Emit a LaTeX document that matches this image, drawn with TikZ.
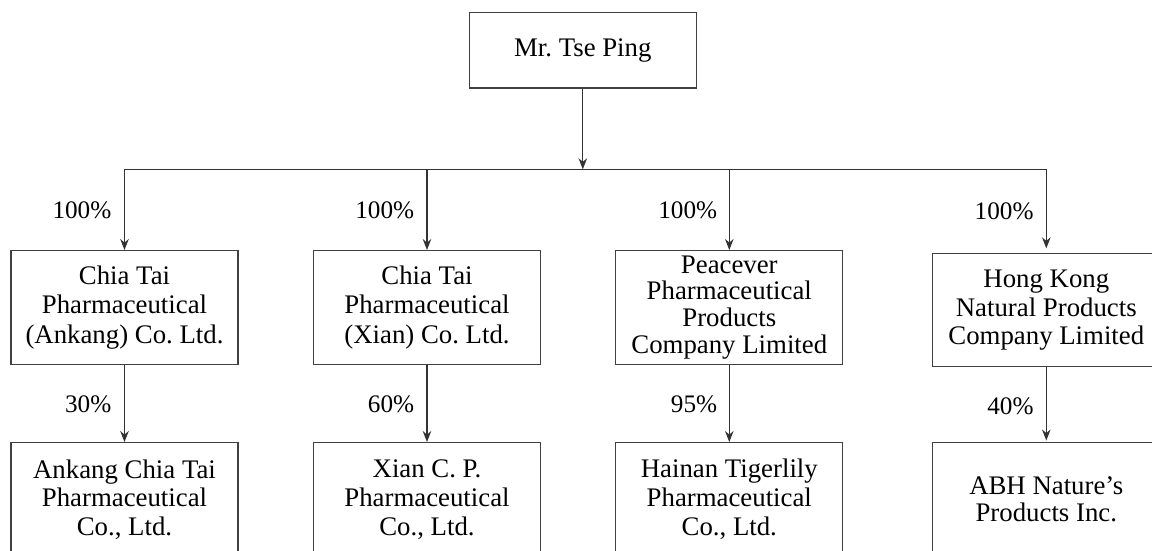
\documentclass[tikz,border=0pt]{standalone}
\usepackage{fontspec}
\setmainfont{Liberation Serif}
\usetikzlibrary{arrows.meta}
\frenchspacing
\begin{document}
\begin{tikzpicture}[x=1pt,y=-1pt,
  box/.style={draw=black!75, line width=1.3pt, rectangle, minimum width=227pt,
    minimum height=113.6pt, inner sep=0pt, align=center,
    font=\fontsize{26.8}{29.5}\selectfont},
  pct/.style={anchor=east, inner sep=0pt, font=\fontsize{25.2}{29}\selectfont},
  ln/.style={draw=black!80, line width=1.3pt},
  arr/.style={ln, -{Stealth[length=11pt,width=8.5pt,inset=3.5pt]}}]
\useasboundingbox (0,0) rectangle (1152,551);
\clip (0,0) rectangle (1152,551);

\node[box, minimum height=75.3pt] (top) at (582.8,50.3) {Mr. Tse Ping};

\node[box, font=\fontsize{26.8}{29.6}\selectfont] (a1) at (124.5,307.5) {Chia Tai\\Pharmaceutical\\(Ankang) Co. Ltd.};
\node[box, font=\fontsize{26.8}{29.6}\selectfont] (a2) at (427,307.5) {Chia Tai\\Pharmaceutical\\(Xian) Co. Ltd.};
\node[box, font=\fontsize{26.8}{26.9}\selectfont] (a3) at (729.3,307.5) {Peacever\\Pharmaceutical\\Products\\Company Limited};
\node[box, minimum height=113pt, font=\fontsize{26.8}{28.4}\selectfont] (a4) at (1046.3,310.2) {Hong Kong\\Natural Products\\Company Limited};

\node[box, font=\fontsize{26.8}{28.7}\selectfont] (b1) at (124.5,499.5) {Ankang Chia Tai\\Pharmaceutical\\Co., Ltd.};
\node[box, font=\fontsize{26.8}{28.7}\selectfont] (b2) at (427,499.5) {Xian C. P.\\Pharmaceutical\\Co., Ltd.};
\node[box, font=\fontsize{26.8}{29.2}\selectfont] (b3) at (729.3,499.5) {Hainan Tigerlily\\Pharmaceutical\\Co., Ltd.};
\node[box, font=\fontsize{26.8}{27.3}\selectfont] (b4) at (1046.3,499.5) {ABH Nature’s\\Products Inc.};

\coordinate (bar) at (582.8,169.3);
\coordinate (j1) at (a1.north |- bar);
\coordinate (j2) at (a2.north |- bar);
\coordinate (j3) at (a3.north |- bar);
\coordinate (j4) at (a4.north |- bar);

\draw[ln] (j1) -- (j4);
\draw[arr] (top.south) -- (bar);
\draw[arr] (j1) -- (a1.north);
\draw[arr] (j2) -- (a2.north);
\draw[arr] (j3) -- (a3.north);
\draw[arr, shorten >=4.7pt] (j4) -- (a4.north);

\draw[arr] (a1.south) -- (b1.north);
\draw[arr] (a2.south) -- (b2.north);
\draw[arr] (a3.south) -- (b3.north);
\draw[arr, shorten >=1.5pt] (a4.south) -- (b4.north);

\node[pct] (p1) at (111.5,210) {100\%};
\node[pct] (p2) at (414.3,210) {100\%};
\node[pct] (p3) at (717.3,210) {100\%};
\node[pct] (p4) at (1033.7,211) {100\%};

\node[pct] (q1) at (111.5,404) {30\%};
\node[pct] (q2) at (414.3,404) {60\%};
\node[pct] (q3) at (717.3,404) {95\%};
\node[pct] (q4) at (1033.7,406) {40\%};
\end{tikzpicture}
\end{document}
